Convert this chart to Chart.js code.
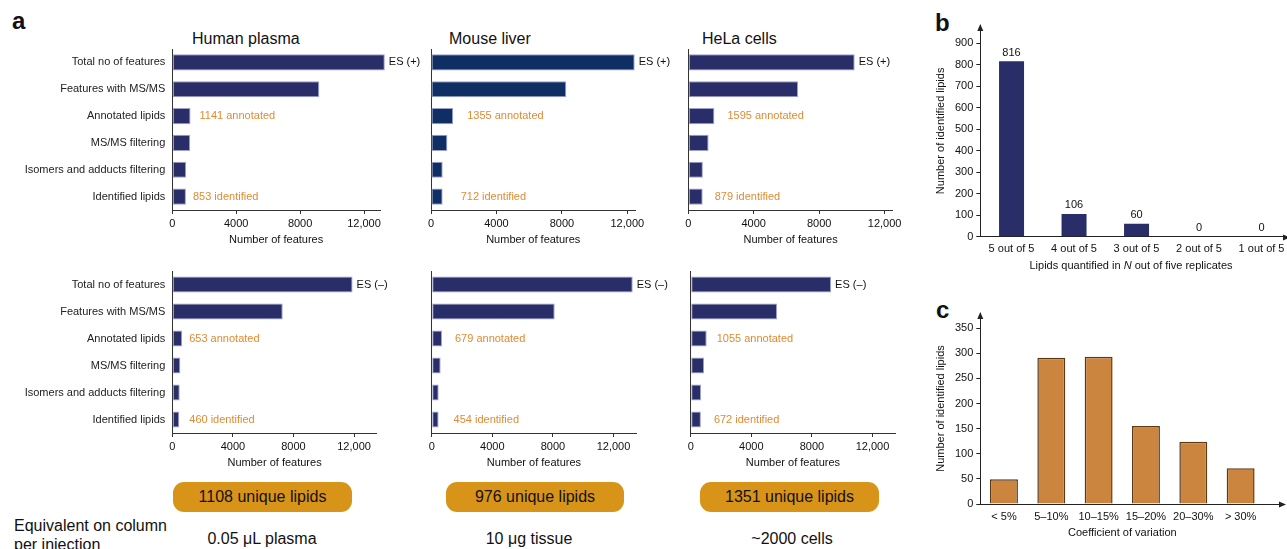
<!DOCTYPE html>
<html>
<head>
<meta charset="utf-8">
<title>Lipid identification workflow</title>
<script src="https://cdn.jsdelivr.net/npm/chart.js@4.4.1/dist/chart.umd.min.js"></script>
<style>
  html, body { margin: 0; padding: 0; background: #fff; }
  body { width: 1287px; height: 549px; overflow: hidden; position: relative;
         font-family: "Liberation Sans", Arial, Helvetica, sans-serif; color: #111; }
  .abs { position: absolute; white-space: nowrap; }
  canvas { position: absolute; }
  .panel { font-weight: bold; font-size: 24px; line-height: 24px; }
  .title { font-size: 16px; line-height: 16px; }
  .pill { position: absolute; height: 30px; background: #D89418; border-radius: 11px;
          display: flex; align-items: center; justify-content: center; font-size: 16px; color: #111; }
  .center { transform: translateX(-50%); }
  .amount { font-size: 16px; line-height: 16px; }
  .small { font-size: 11px; line-height: 13px; }
</style>
</head>
<body>

<div class="abs panel" style="left:12px;top:9px">a</div>
<div class="abs panel" style="left:935px;top:11px">b</div>
<div class="abs panel" style="left:936px;top:298px">c</div>

<div class="abs title" style="left:192px;top:31px">Human plasma</div>
<div class="abs title" style="left:449px;top:31px">Mouse liver</div>
<div class="abs title" style="left:702px;top:31px">HeLa cells</div>

<canvas id="plasmaPos" width="420" height="207" style="left:0;top:40px;width:420px;height:207px"></canvas>
<canvas id="liverPos" width="260" height="207" style="left:420px;top:40px;width:260px;height:207px"></canvas>
<canvas id="helaPos" width="230" height="207" style="left:680px;top:40px;width:230px;height:207px"></canvas>
<canvas id="plasmaNeg" width="420" height="208" style="left:0;top:262px;width:420px;height:208px"></canvas>
<canvas id="liverNeg" width="260" height="208" style="left:420px;top:262px;width:260px;height:208px"></canvas>
<canvas id="helaNeg" width="230" height="208" style="left:680px;top:262px;width:230px;height:208px"></canvas>

<canvas id="replicates" width="370" height="280" style="left:930px;top:0;width:370px;height:280px"></canvas>
<canvas id="variation" width="370" height="260" style="left:930px;top:290px;width:370px;height:260px"></canvas>

<div class="abs small center" style="left:1131px;top:259px">Lipids quantified in <i>N</i> out of five replicates</div>

<div class="pill" style="left:173px;top:482px;width:179px">1108 unique lipids</div>
<div class="pill" style="left:446px;top:482px;width:178px">976 unique lipids</div>
<div class="pill" style="left:700px;top:482px;width:179px">1351 unique lipids</div>

<div class="abs" style="left:14px;top:516px;font-size:16px;line-height:19px">Equivalent on column<br>per injection</div>
<div class="abs amount center" style="left:262px;top:531px">0.05 μL plasma</div>
<div class="abs amount center" style="left:529px;top:531px">10 μg tissue</div>
<div class="abs amount center" style="left:792px;top:531px">~2000 cells</div>

<script>
// ---- data ----
const steps = ['Total no of features', 'Features with MS/MS', 'Annotated lipids',
               'MS/MS filtering', 'Isomers and adducts filtering', 'Identified lipids'];

// ES (+) mode
const plasmaPositive = [13300, 9200, 1141, 1120, 870, 853];
const liverPositive  = [12450, 8270, 1355, 1000, 715, 712];
const helaPositive   = [10170, 6710, 1595, 1240, 890, 879];
// ES (–) mode
const plasmaNegative = [11900, 7290, 653, 530, 490, 460];
const liverNegative  = [13270, 8120, 679, 590, 460, 454];
const helaNegative   = [9270, 5700, 1055, 880, 680, 672];

const featureTicks = [0, 4000, 8000, 12000];

const replicateCategories = ['5 out of 5', '4 out of 5', '3 out of 5', '2 out of 5', '1 out of 5'];
const replicateCounts = [816, 106, 60, 0, 0];

const cvCategories = ['< 5%', '5–10%', '10–15%', '15–20%', '20–30%', '> 30%'];
const cvCounts = [49, 291, 293, 155, 124, 71];

// ---- styling ----
const FONT = '"Liberation Sans", Arial, Helvetica, sans-serif';
const NAVY = '#2A2E68';
const NAVY_BLUE = '#0E2E64';
const ORANGE = '#E08B33';
const INK = '#111';
const AXIS = '#333';

Chart.defaults.font.family = FONT;
Chart.defaults.color = INK;

// labels next to the funnel bars: ionisation mode, annotated and identified counts
const stageLabels = {
  id: 'stageLabels',
  afterDatasetsDraw(chart, args, o) {
    const ctx = chart.ctx;
    const bars = chart.getDatasetMeta(0).data;
    const vals = chart.data.datasets[0].data;
    ctx.save();
    ctx.font = `11px ${FONT}`;
    ctx.textBaseline = 'middle';
    ctx.textAlign = 'left';
    ctx.fillStyle = INK;
    ctx.fillText(`ES (${o.mode})`, bars[0].x + 4, bars[0].y);
    ctx.fillStyle = ORANGE;
    ctx.fillText(`${vals[2]} annotated`, bars[2].x + o.annGap, bars[2].y);
    ctx.fillText(`${vals[5]} identified`, bars[5].x + o.idGap, bars[5].y);
    ctx.restore();
  }
};

function funnel(id, values, cfg) {
  new Chart(document.getElementById(id), {
    type: 'bar',
    data: {
      labels: steps,
      datasets: [{
        data: values,
        backgroundColor: cfg.color || NAVY,
        borderColor: 'rgba(140,145,195,0.85)',
        borderWidth: 1,
        borderSkipped: false,
        barPercentage: 0.6,
        categoryPercentage: 1,
        clip: false
      }]
    },
    plugins: [stageLabels],
    options: {
      indexAxis: 'y',
      responsive: false,
      animation: false,
      devicePixelRatio: 1,
      layout: { padding: { top: 9, right: cfg.padRight, bottom: 0, left: 0 } },
      plugins: {
        legend: { display: false },
        tooltip: { enabled: false },
        stageLabels: { mode: cfg.mode, annGap: cfg.annGap, idGap: cfg.idGap }
      },
      scales: {
        x: {
          min: 0,
          max: cfg.max,
          afterBuildTicks: s => { s.ticks = featureTicks.map(v => ({ value: v })); },
          afterFit: s => { s.height = 37; },
          ticks: {
            autoSkip: false, maxRotation: 0, padding: 3, color: INK,
            font: { size: 11 },
            callback: v => (v >= 10000 ? v.toLocaleString('en-US') : String(v))
          },
          grid: { display: true, drawOnChartArea: false, drawTicks: true, tickLength: 4, color: AXIS },
          border: { display: true, color: AXIS, width: 1 },
          title: { display: true, text: 'Number of features', color: INK, font: { size: 11 }, padding: 0 }
        },
        y: {
          afterFit: s => { s.width = cfg.axisWidth; s.paddingTop = 0; s.paddingBottom = 0; },
          ticks: { display: cfg.showSteps, color: '#222', font: { size: 11 }, padding: 7 },
          grid: { display: false, drawTicks: false },
          border: { display: true, color: AXIS, width: 1 }
        }
      }
    }
  });
}

funnel('plasmaPos', plasmaPositive, { max: 13000, axisWidth: 172.3, padRight: 40, mode: '+', annGap: 9, idGap: 7, showSteps: true });
funnel('liverPos', liverPositive, { max: 12500, axisWidth: 11, padRight: 44.5, mode: '+', annGap: 14, idGap: 18, showSteps: false, color: NAVY_BLUE });
funnel('helaPos', helaPositive, { max: 12500, axisWidth: 8.3, padRight: 17.2, mode: '+', annGap: 13, idGap: 12, showSteps: false });
funnel('plasmaNeg', plasmaNegative, { max: 13500, axisWidth: 172.3, padRight: 43.2, mode: '–', annGap: 7, idGap: 10, showSteps: true });
funnel('liverNeg', liverNegative, { max: 13500, axisWidth: 11.7, padRight: 43.8, mode: '–', annGap: 13, idGap: 15, showSteps: false });
funnel('helaNeg', helaNegative, { max: 13500, axisWidth: 10.7, padRight: 14.8, mode: '–', annGap: 10, idGap: 13, showSteps: false });

// arrowheads on the axes of the histograms
const axisArrows = {
  id: 'axisArrows',
  afterDraw(chart, args, o) {
    const { ctx, chartArea: { left, top, right, bottom } } = chart;
    const yb = Math.round(bottom) + 0.5;
    ctx.save();
    ctx.strokeStyle = '#222';
    ctx.fillStyle = '#222';
    ctx.lineWidth = 1;
    // y arrow
    ctx.beginPath();
    ctx.moveTo(left, top - 1);
    ctx.lineTo(left - 3, top + 6);
    ctx.lineTo(left + 3, top + 6);
    ctx.closePath();
    ctx.fill();
    // x axis extension and arrow
    ctx.beginPath();
    ctx.moveTo(right - 1, yb);
    ctx.lineTo(o.xEnd, yb);
    ctx.stroke();
    ctx.beginPath();
    ctx.moveTo(o.xEnd + 1, yb);
    ctx.lineTo(o.xEnd - 6, yb - 3);
    ctx.lineTo(o.xEnd - 6, yb + 3);
    ctx.closePath();
    ctx.fill();
    ctx.restore();
  }
};

// counts printed above each column
const valueLabels = {
  id: 'valueLabels',
  afterDatasetsDraw(chart) {
    const ctx = chart.ctx;
    const bars = chart.getDatasetMeta(0).data;
    const vals = chart.data.datasets[0].data;
    ctx.save();
    ctx.font = `11px ${FONT}`;
    ctx.fillStyle = INK;
    ctx.textAlign = 'center';
    ctx.textBaseline = 'bottom';
    bars.forEach((b, i) => ctx.fillText(String(vals[i]), b.x, b.y - 3));
    ctx.restore();
  }
};

function histogramScales(max, step, xHeight, xTitle) {
  return {
    x: {
      afterFit: s => { s.height = xHeight; },
      grid: { display: false, drawTicks: false },
      border: { display: true, color: '#222', width: 1 },
      ticks: { color: INK, font: { size: 11 }, padding: 6, maxRotation: 0, autoSkip: false },
      title: xTitle
    },
    y: {
      min: 0,
      max: max,
      afterFit: s => { s.width = 50.3; },
      afterBuildTicks: s => { s.ticks = s.ticks.filter(t => t.value % step === 0); },
      ticks: { stepSize: step, color: INK, font: { size: 11 }, padding: 3 },
      grid: { display: true, drawOnChartArea: false, drawTicks: true, tickLength: 4, color: '#222' },
      border: { display: true, color: '#222', width: 1 },
      title: { display: true, text: 'Number of identified lipids', color: INK, font: { size: 11 }, padding: { top: 4.4, bottom: 0 } }
    }
  };
}

new Chart(document.getElementById('replicates'), {
  type: 'bar',
  data: {
    labels: replicateCategories,
    datasets: [{ data: replicateCounts, backgroundColor: NAVY, barPercentage: 0.4, categoryPercentage: 1 }]
  },
  plugins: [valueLabels, axisArrows],
  options: {
    responsive: false,
    animation: false,
    devicePixelRatio: 1,
    layout: { padding: { top: 25, right: 7.2, bottom: 0, left: 0 } },
    plugins: { legend: { display: false }, tooltip: { enabled: false }, axisArrows: { xEnd: 359 } },
    scales: histogramScales(985, 100, 43.3, { display: false })
  }
});

new Chart(document.getElementById('variation'), {
  type: 'bar',
  data: {
    labels: cvCategories,
    datasets: [{
      data: cvCounts,
      backgroundColor: '#CC853E',
      borderColor: '#5C3A16',
      borderWidth: 1.5,
      borderSkipped: 'bottom',
      barPercentage: 0.59,
      categoryPercentage: 1
    }]
  },
  plugins: [axisArrows],
  options: {
    responsive: false,
    animation: false,
    devicePixelRatio: 1,
    layout: { padding: { top: 23, right: 35.7, bottom: 0, left: 0 } },
    plugins: { legend: { display: false }, tooltip: { enabled: false }, axisArrows: { xEnd: 355 } },
    scales: histogramScales(380, 50, 46, {
      display: true, text: 'Coefficient of variation', color: INK, font: { size: 11 }, padding: { top: 0, bottom: 10 }
    })
  }
});
</script>
</body>
</html>
